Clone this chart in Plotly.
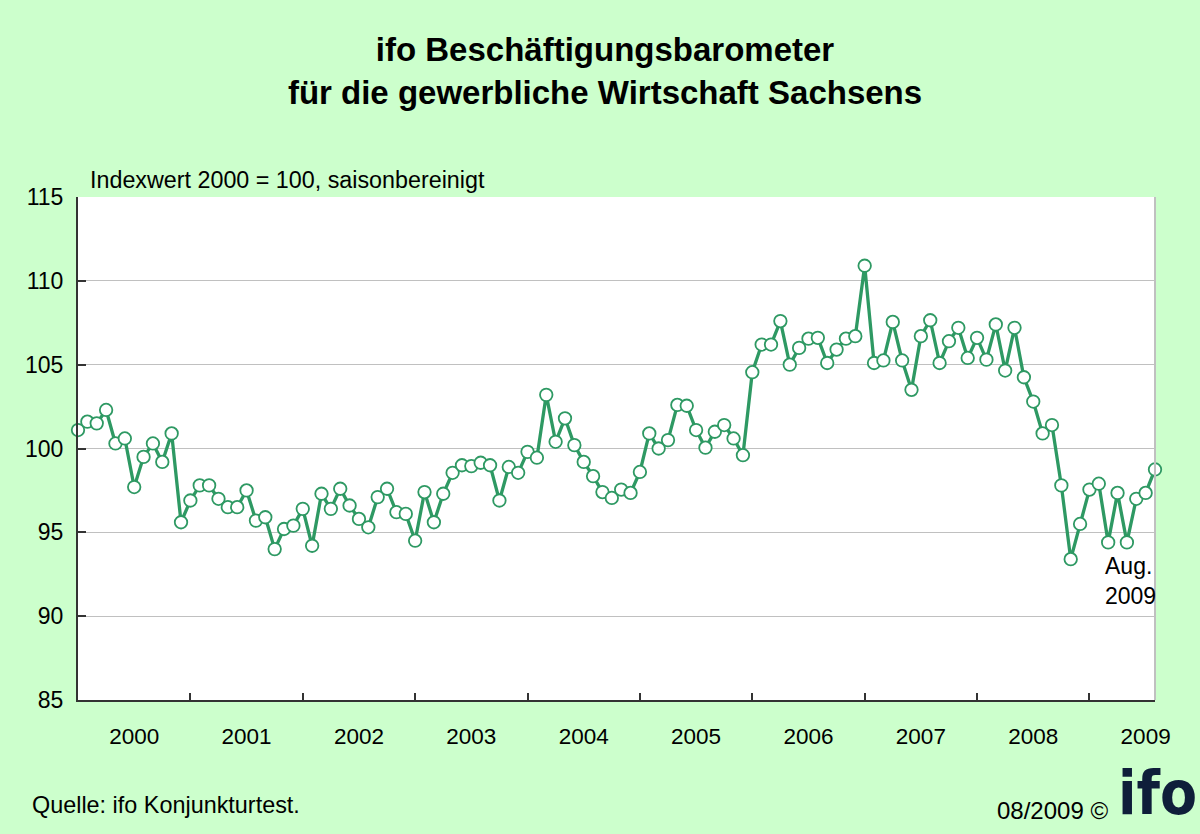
import plotly.graph_objects as go

years = ["2000", "2001", "2002", "2003", "2004", "2005", "2006", "2007", "2008", "2009"]
y_ticks = [85, 90, 95, 100, 105, 110, 115]

v2000 = [101.1, 101.6, 101.5, 102.3, 100.3, 100.6, 97.7, 99.5, 100.3, 99.2, 100.9, 95.6]
v2001 = [96.9, 97.8, 97.8, 97.0, 96.5, 96.5, 97.5, 95.7, 95.9, 94.0, 95.2, 95.4]
v2002 = [96.4, 94.2, 97.3, 96.4, 97.6, 96.6, 95.8, 95.3, 97.1, 97.6, 96.2, 96.1]
v2003 = [94.5, 97.4, 95.6, 97.3, 98.55, 99.0, 98.95, 99.15, 99.0, 96.9, 98.9, 98.55]
v2004 = [99.8, 99.45, 103.2, 100.4, 101.8, 100.2, 99.2, 98.35, 97.4, 97.05, 97.55, 97.35]
v2005 = [98.6, 100.9, 100.0, 100.5, 102.6, 102.55, 101.1, 100.05, 101.0, 101.4, 100.6, 99.6]
v2006 = [104.55, 106.2, 106.2, 107.6, 105.0, 106.0, 106.55, 106.6, 105.1, 105.9, 106.55, 106.7]
v2007 = [110.9, 105.1, 105.25, 107.55, 105.25, 103.5, 106.7, 107.65, 105.1, 106.4, 107.2, 105.4]
v2008 = [106.6, 105.3, 107.4, 104.65, 107.2, 104.25, 102.8, 100.9, 101.4, 97.8, 93.4, 95.5]
v2009 = [97.55, 97.9, 94.4, 97.35, 94.4, 97.0, 97.35, 98.75]

values = v2000 + v2001 + v2002 + v2003 + v2004 + v2005 + v2006 + v2007 + v2008 + v2009
month_idx = list(range(len(values)))

GREEN = "#2E9963"
BG = "#CCFFCC"
FONT = "Liberation Sans, Arial, sans-serif"

fig = go.Figure()
fig.add_trace(go.Scatter(
    x=month_idx, y=values, mode="lines+markers",
    line=dict(color=GREEN, width=3.3),
    marker=dict(symbol="circle", size=12.5, color="white", line=dict(color=GREEN, width=1.8)),
    hoverinfo="skip", showlegend=False, cliponaxis=False,
))

fig.update_layout(
    width=1200, height=834,
    paper_bgcolor=BG, plot_bgcolor="white",
    margin=dict(l=78, r=45, t=197, b=134),
    font=dict(family=FONT, size=23, color="black"),
    title=dict(
        text="<b>ifo Beschäftigungsbarometer<br>für die gewerbliche Wirtschaft Sachsens</b>",
        xref="container", yref="container", x=605/1200, y=1-61/834,
        xanchor="center", yanchor="middle",
        font=dict(family=FONT, size=33, color="black"),
    ),
    xaxis=dict(
        range=[0, len(values) - 1],
        tickmode="array",
        tickvals=[6 + 12 * j for j in range(len(years))],
        ticktext=years,
        ticks="", showgrid=False, zeroline=False,
        showline=True, linecolor="#333333", linewidth=2,
        ticklabelstandoff=15,
        tickfont=dict(size=22.5),
        minor=dict(tickmode="array", tickvals=[12 * j for j in range(1, len(years))],
                   ticks="inside", ticklen=7, tickwidth=1.5, tickcolor="#333333", showgrid=False),
    ),
    yaxis=dict(
        range=[85, 115],
        tickmode="array", tickvals=y_ticks,
        ticks="inside", ticklen=8, tickwidth=1.5, tickcolor="#333333",
        showgrid=True, gridcolor="#C0C0C0", gridwidth=1.3,
        zeroline=False,
        showline=True, linecolor="#333333", linewidth=2,
        ticklabelstandoff=8,
        tickfont=dict(size=23),
    ),
)

# right border (grey)
fig.add_shape(type="line", xref="paper", yref="paper", x0=1, x1=1, y0=0, y1=1,
              line=dict(color="#C0C0C0", width=2))

fig.add_annotation(text="Indexwert 2000 = 100, saisonbereinigt", xref="paper", yref="paper",
                   x=(88 - 78) / 1077, y=(700 - 180) / 503, xanchor="left", yanchor="middle",
                   showarrow=False, font=dict(size=23.3))
fig.add_annotation(text="Aug.<br>2009", x=len(values) - 1 - 5.6, y=92.1, xanchor="left",
                   yanchor="middle", align="left", showarrow=False, font=dict(size=23))
fig.add_annotation(text="Quelle: ifo Konjunkturtest.", xref="paper", yref="paper",
                   x=(30 - 78) / 1077, y=(700 - 805) / 503, xanchor="left", yanchor="middle",
                   showarrow=False, font=dict(size=23.4))
fig.add_annotation(text="08/2009 ©", xref="paper", yref="paper",
                   x=(1110 - 78) / 1077, y=(700 - 810) / 503, xanchor="right", yanchor="middle",
                   showarrow=False, font=dict(size=24))
fig.add_annotation(text="<b>ifo</b>", xref="paper", yref="paper",
                   x=(1157 - 78) / 1077, y=(700 - 793) / 503, xanchor="center", yanchor="middle",
                   showarrow=False,
                   font=dict(family="DejaVu Sans Condensed, DejaVu Sans, sans-serif", size=60,
                             color="#0F1E3A"))

fig.write_html("out.html", config={"displayModeBar": False},
               post_script="document.body.style.margin='0';")
